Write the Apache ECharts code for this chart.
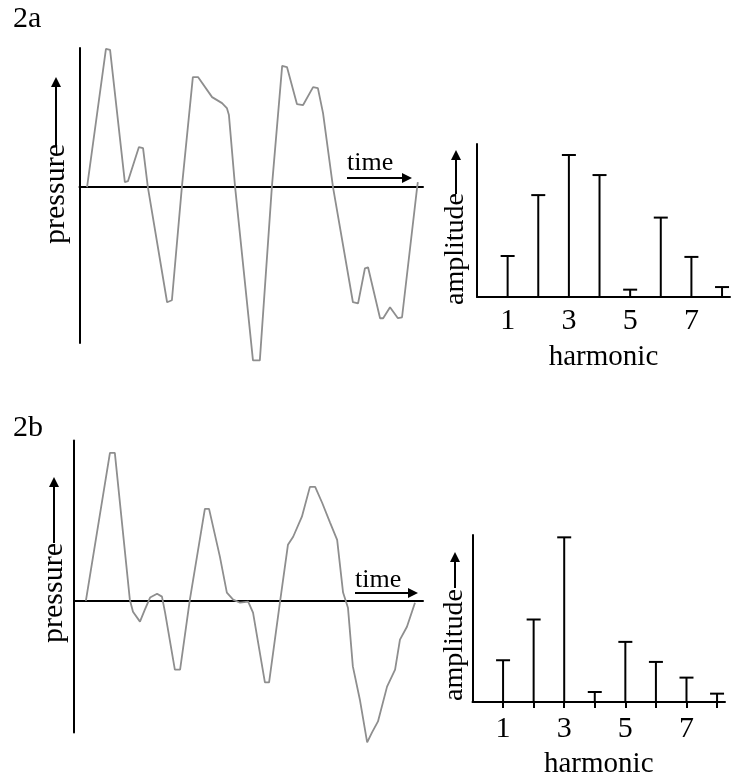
<!DOCTYPE html>
<html>
<head>
<meta charset="utf-8">
<script src="https://cdn.jsdelivr.net/npm/echarts@6/dist/echarts.min.js"></script>
<style>
  html, body { margin: 0; padding: 0; background: #fff; }
  #chart { width: 739px; height: 783px; }
</style>
</head>
<body>
<div id="chart"></div>
<script>
// 2a waveform: time (0..100) and pressure readings
const timeA = [2.2, 7.7, 8.9, 13.2, 14.1, 17.3, 18.5, 19.9, 25.5, 26.9, 29.8, 33.0, 34.5, 38.6, 41.5, 42.9, 43.5, 45.3,
  50.5, 52.5, 56.0, 59.0, 60.4, 63.3, 65.1, 68.0, 69.4, 70.9, 73.8, 79.6, 81.1, 83.1, 84.0, 87.5, 88.4, 90.4, 92.7, 93.9, 98.3, 98.5];
const pressureA = [0, 99.3, 98.6, 3.6, 4.3, 28.8, 28.1, 0, -82.7, -81.3, 0, 79.1, 79.1, 64.7, 60.4, 56.8, 51.8, 0,
  -124.5, -124.5, 0, 87.1, 86.3, 59.7, 59.0, 71.9, 71.2, 53.2, 0, -82.7, -83.5, -58.3, -57.6, -94.2, -94.2, -86.3, -94.2, -93.5, 0, 3.6];

// 2b waveform
const timeB = [3.4, 10.3, 11.7, 16.0, 16.9, 18.9, 20.3, 21.8, 23.8, 25.2, 26.1, 28.9, 30.4, 33.2, 37.5, 38.7, 41.8, 43.8,
  45.6, 47.6, 49.9, 51.3, 54.7, 55.9, 59.0, 61.3, 62.8, 65.3, 67.6, 69.1, 71.1, 73.4, 75.4, 77.1, 78.5, 79.9, 81.9,
  84.0, 85.4, 87.1, 89.7, 92.0, 93.4, 95.4, 97.7];
const pressureB = [0, 92.3, 92.3, 0.8, -6.7, -12.9, -5.4, 2.1, 4.5, 2.7, -7.3, -42.8, -42.8, 0.8, 57.4, 57.4, 27.6, 5.2,
  0.8, -1.1, -0.4, -7.3, -50.8, -50.8, -1.1, 35.0, 40.0, 52.5, 71.1, 71.1, 61.2, 48.7, 38.1, 5.2, -4.2, -40.8, -61.4,
  -88.2, -81.9, -75.1, -53.4, -42.8, -24.1, -16.1, -1.1];

// spectra
const harmonics = [1, 2, 3, 4, 5, 6, 7, 8];
const amplitudeA = [26.8, 66.6, 92.8, 79.7, 4.8, 51.9, 26.2, 6.5];
const amplitudeB = [25.0, 49.4, 98.6, 6.0, 36.0, 24.0, 14.6, 5.0];
const harmonicTickLabels = [1, 3, 5, 7];

const SERIF = '"Liberation Serif", "Times New Roman", serif';
const INK = '#000';
const WAVE = '#8e8e8e';

const zip = (xs, ys) => xs.map((x, i) => [x, ys[i]]);

function vArrowLabel(cx, cy, text, size, lineFrom, tip) {
  return [
    { type: 'text', x: cx, y: cy, rotation: Math.PI / 2,
      style: { text, font: size + 'px ' + SERIF, fill: INK, align: 'center', verticalAlign: 'middle',
        textAlign: 'center', textVerticalAlign: 'middle' } },
    { type: 'line', shape: { x1: cx, y1: lineFrom, x2: cx, y2: tip + 9 }, style: { stroke: INK, lineWidth: 2 } },
    { type: 'polygon', shape: { points: [[cx, tip], [cx - 5, tip + 10], [cx + 5, tip + 10]] }, style: { fill: INK } }
  ];
}

function hArrowLabel(x0, textY, arrowY, tip, text, size) {
  return [
    { type: 'text', x: x0, y: textY,
      style: { text, font: size + 'px ' + SERIF, fill: INK, align: 'left', verticalAlign: 'middle',
        textAlign: 'left', textVerticalAlign: 'middle' } },
    { type: 'line', shape: { x1: x0, y1: arrowY, x2: tip - 9, y2: arrowY }, style: { stroke: INK, lineWidth: 2 } },
    { type: 'polygon', shape: { points: [[tip, arrowY], [tip - 10, arrowY - 5], [tip - 10, arrowY + 5]] }, style: { fill: INK } }
  ];
}

function panelLabel(x, y, text) {
  return { type: 'text', x, y,
    style: { text, font: '30px ' + SERIF, fill: INK, align: 'left', verticalAlign: 'middle',
      textAlign: 'left', textVerticalAlign: 'middle' } };
}

const plainAxis = (extra) => Object.assign({
  type: 'value',
  axisLine: { show: true, onZero: true, lineStyle: { color: INK, width: 2 } },
  axisTick: { show: false },
  axisLabel: { show: false },
  splitLine: { show: false }
}, extra);

const harmonicAxis = (gridIndex, margin, nameGap, ticks) => ({
  type: 'value', gridIndex, min: 0, max: 8.26, interval: 1,
  axisLine: { show: true, lineStyle: { color: INK, width: 2 } },
  axisTick: ticks ? { show: true, inside: false, length: 6, customValues: harmonics, lineStyle: { color: INK, width: 2 } } : { show: false },
  axisLabel: { show: true, customValues: harmonicTickLabels, margin, color: INK, fontFamily: SERIF, fontSize: 30 },
  splitLine: { show: false },
  name: 'harmonic', nameLocation: 'middle', nameGap,
  nameTextStyle: { color: INK, fontFamily: SERIF, fontSize: 29 }
});

function stemItem(params, api) {
  const base = api.coord([api.value(0), 0]);
  const top = api.coord([api.value(0), api.value(1)]);
  const style = { stroke: INK, lineWidth: 2 };
  return { type: 'group', children: [
    { type: 'line', shape: { x1: base[0], y1: base[1], x2: top[0], y2: top[1] }, style },
    { type: 'line', shape: { x1: top[0] - 7, y1: top[1], x2: top[0] + 7, y2: top[1] }, style }
  ] };
}

const option = {
  animation: false,
  backgroundColor: '#fff',
  grid: [
    { left: 79.5, top: 48, width: 343.5, height: 295 },
    { left: 477, top: 144, width: 253, height: 153 },
    { left: 74, top: 440.5, width: 349, height: 292 },
    { left: 472.5, top: 535, width: 252.5, height: 167 }
  ],
  xAxis: [
    plainAxis({ gridIndex: 0, min: 0, max: 100 }),
    harmonicAxis(1, 9, 46, false),
    plainAxis({ gridIndex: 2, min: 0, max: 100 }),
    harmonicAxis(3, 12, 48, true)
  ],
  yAxis: [
    plainAxis({ gridIndex: 0, min: -112, max: 100 }),
    plainAxis({ gridIndex: 1, min: 0, max: 100 }),
    plainAxis({ gridIndex: 2, min: -82, max: 100 }),
    plainAxis({ gridIndex: 3, min: 0, max: 100 })
  ],
  series: [
    { type: 'line', xAxisIndex: 0, yAxisIndex: 0, data: zip(timeA, pressureA), clip: false,
      symbol: 'none', lineStyle: { color: WAVE, width: 1.8 } },
    { type: 'custom', xAxisIndex: 1, yAxisIndex: 1, data: zip(harmonics, amplitudeA), renderItem: stemItem },
    { type: 'line', xAxisIndex: 2, yAxisIndex: 2, data: zip(timeB, pressureB), clip: false,
      symbol: 'none', lineStyle: { color: WAVE, width: 1.8 } },
    { type: 'custom', xAxisIndex: 3, yAxisIndex: 3, data: zip(harmonics, amplitudeB), renderItem: stemItem }
  ],
  graphic: [
    panelLabel(13, 19, '2a'),
    panelLabel(13, 428, '2b'),
    ...vArrowLabel(56, 194, 'pressure', 30, 146, 77),
    ...vArrowLabel(54, 593, 'pressure', 30, 543, 477),
    ...vArrowLabel(456, 249, 'amplitude', 28, 194, 150),
    ...vArrowLabel(455, 645, 'amplitude', 28, 588, 552),
    ...hArrowLabel(347, 163, 178, 412, 'time', 26),
    ...hArrowLabel(355, 580, 593, 418, 'time', 26)
  ]
};

const chart = echarts.init(document.getElementById('chart'), null, { renderer: 'canvas' });
chart.setOption(option);
</script>
</body>
</html>
